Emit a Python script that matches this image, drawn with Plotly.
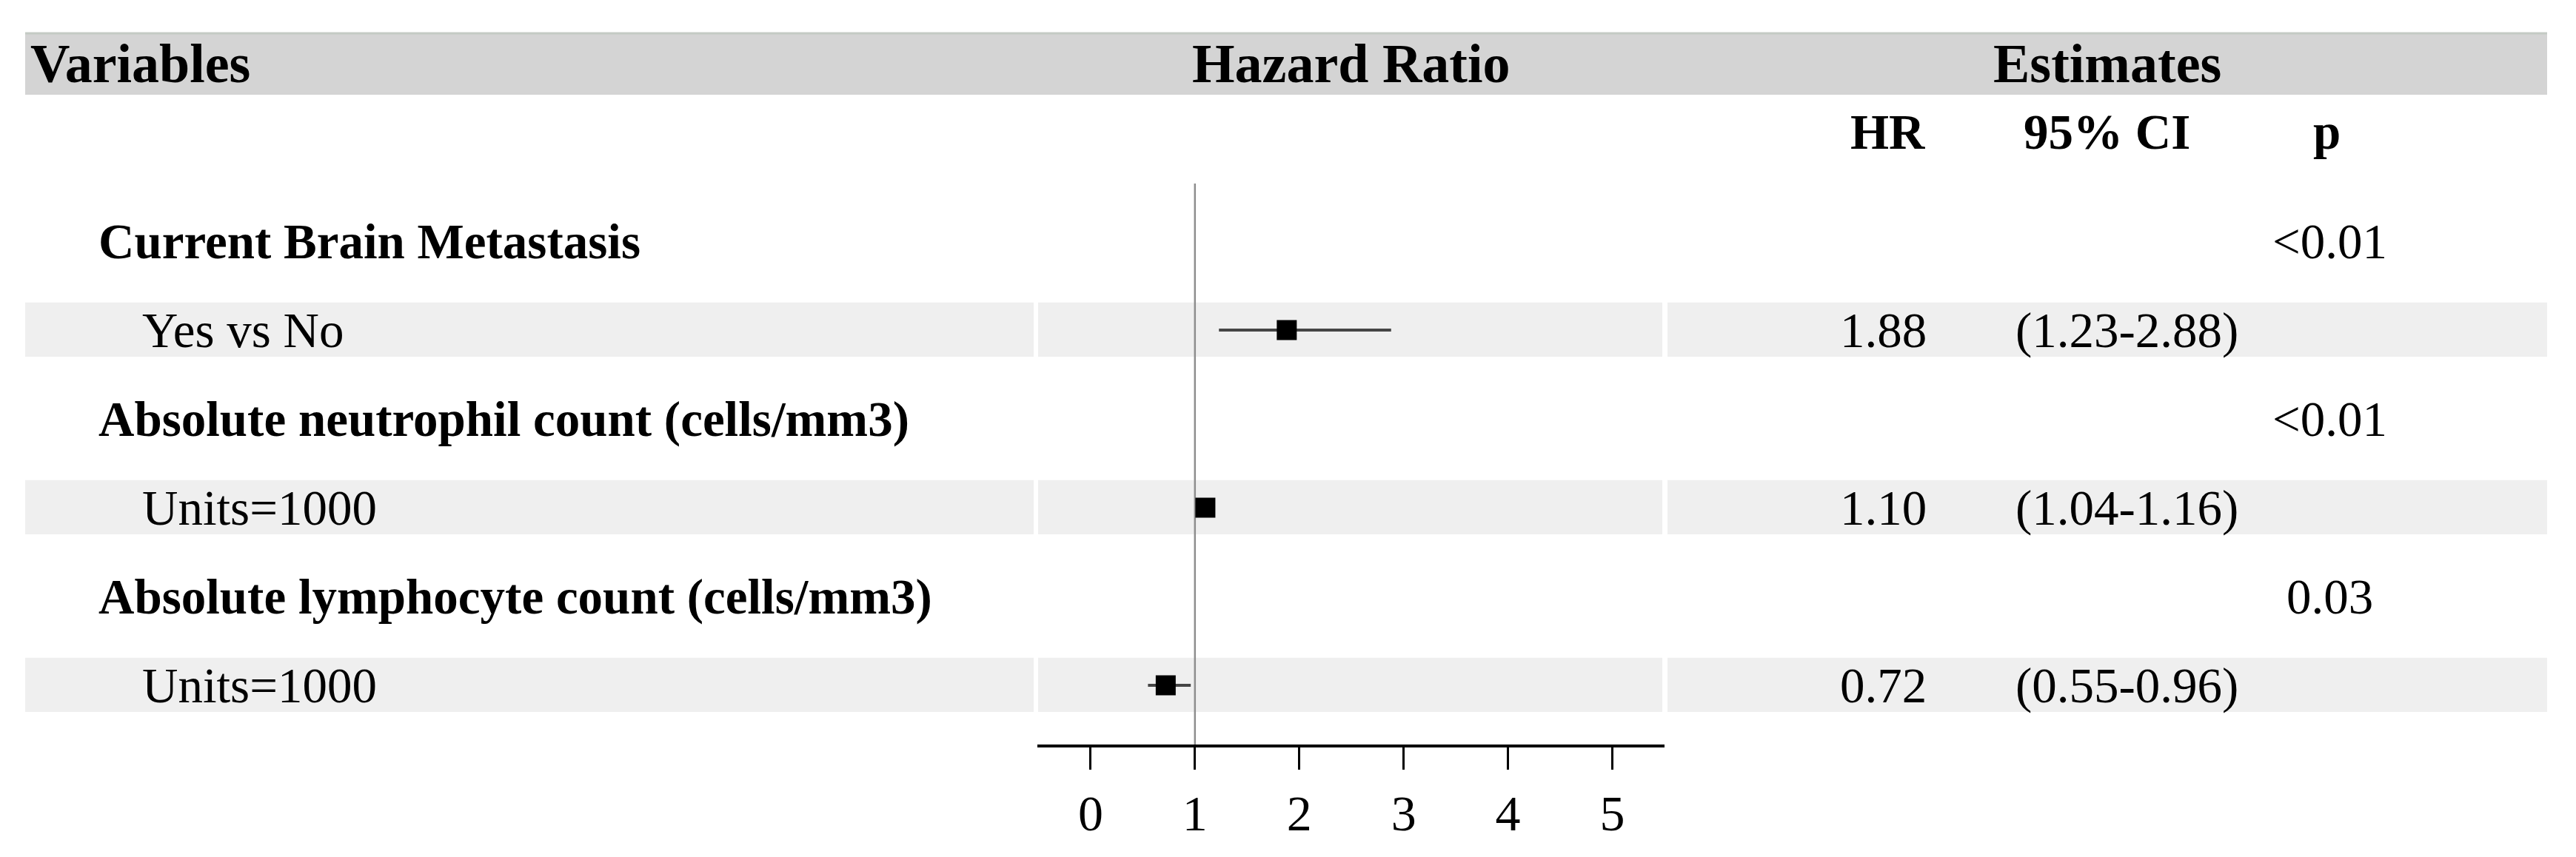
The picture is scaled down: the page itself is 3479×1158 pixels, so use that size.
import plotly.graph_objects as go

# ---------------- data ----------------
row_labels = ["Current Brain Metastasis", "Yes vs No",
              "Absolute neutrophil count (cells/mm3)", "Units=1000",
              "Absolute lymphocyte count (cells/mm3)", "Units=1000"]
row_is_group = [True, False, True, False, True, False]
hr_values = [None, 1.88, None, 1.10, None, 0.72]
ci_low = [None, 1.23, None, 1.04, None, 0.55]
ci_high = [None, 2.88, None, 1.16, None, 0.96]
hr_text = ["", "1.88", "", "1.10", "", "0.72"]
ci_text = ["", "(1.23-2.88)", "", "(1.04-1.16)", "", "(0.55-0.96)"]
p_text = ["<0.01", "", "<0.01", "", "0.03", ""]
tick_values = [0, 1, 2, 3, 4, 5]
tick_labels = ["0", "1", "2", "3", "4", "5"]
ref_value = 1

# ---------------- geometry (page pixels) ----------------
PAGE_W, PAGE_H = 3479, 1158
OFF = 8                              # default body margin of the html page
W, H = PAGE_W - OFF, PAGE_H - OFF    # figure size
ROW0_PX, ROW_PX = 326, 120           # page y of first row centre, row pitch


def v(py):
    """page pixel y -> y data value"""
    return (py - ROW0_PX) / ROW_PX


def px(x):
    """page pixel x -> paper fraction"""
    return (x - OFF) / W


FONT = "Liberation Serif"
rows = list(range(len(row_labels)))

fig = go.Figure()

xs, ys, em, ep = [], [], [], []
for r, h, lo, hi in zip(rows, hr_values, ci_low, ci_high):
    if h is None:
        continue
    xs.append(h)
    ys.append(r)
    em.append(h - lo)
    ep.append(hi - h)

fig.add_trace(go.Scatter(
    x=xs, y=ys, mode="markers",
    marker=dict(symbol="square", size=27, color="black"),
    error_x=dict(type="data", symmetric=False, array=ep, arrayminus=em,
                 thickness=4, width=0, color="#454545"),
    showlegend=False, hoverinfo="skip", cliponaxis=False,
))

shapes = []
shapes.append(dict(type="rect", xref="paper", yref="y",
                   x0=px(34), x1=px(3440), y0=v(44), y1=v(128),
                   fillcolor="#d4d4d4", line=dict(width=0), layer="below"))
shapes.append(dict(type="line", xref="paper", yref="y",
                   x0=px(34), x1=px(3440), y0=v(45), y1=v(45),
                   line=dict(color="#c4cac4", width=3), layer="below"))

for r, g in zip(rows, row_is_group):
    if g:
        continue
    for a, b in [(34, 1396), (1402, 2245), (2252, 3440)]:
        shapes.append(dict(type="rect", xref="paper", yref="y",
                           x0=px(a), x1=px(b), y0=r - 0.31, y1=r + 0.30,
                           fillcolor="#efefef", line=dict(width=0), layer="below"))

shapes.append(dict(type="line", xref="x", yref="y",
                   x0=ref_value, x1=ref_value, y0=v(248), y1=v(1007),
                   line=dict(color="#8e8e8e", width=2.5), layer="below"))

annotations = []


def ann(text, xpix, y, anchor, size=67, bold=False):
    annotations.append(dict(
        text=f"<b>{text}</b>" if bold else text,
        x=px(xpix), xref="paper", y=y, yref="y",
        xanchor=anchor, yanchor="middle", showarrow=False, borderpad=0,
        font=dict(family=FONT, size=size, color="black"),
    ))


ann("Variables", 40, v(86), "left", size=74, bold=True)
ann("Hazard Ratio", 1825, v(86), "center", size=74, bold=True)
ann("Estimates", 2846, v(86), "center", size=74, bold=True)

ann("HR", 2601, v(178), "right", bold=True)
ann("95% CI", 2732, v(178), "left", bold=True)
ann("p", 3142, v(178), "center", bold=True)

for r, lab, g, ht, ct, pt in zip(rows, row_labels, row_is_group, hr_text, ci_text, p_text):
    ann(lab, 132 if g else 191, r, "left", bold=g)
    if ht:
        ann(ht, 2603, r, "right")
    if ct:
        ann(ct, 2721, r, "left")
    if pt:
        ann(pt, 3146, r, "center")

fig.update_layout(
    width=W, height=H,
    margin=dict(l=0, r=0, t=0, b=0),
    paper_bgcolor="white", plot_bgcolor="rgba(0,0,0,0)",
    shapes=shapes, annotations=annotations,
    xaxis=dict(domain=[px(1401), px(2248)], range=[-0.51, 5.5],
               anchor="free", position=1 - (1008 - OFF) / H,
               showgrid=False, zeroline=False,
               showline=True, linewidth=4, linecolor="black",
               ticks="outside", ticklen=30, tickwidth=3, tickcolor="black",
               tickvals=tick_values, ticktext=tick_labels,
               tickfont=dict(family=FONT, size=68, color="black")),
    yaxis=dict(domain=[0, 1], range=[v(PAGE_H), v(OFF)],
               visible=False, showgrid=False, zeroline=False),
    showlegend=False,
)

fig.write_html("out.html", config={"displayModeBar": False})
